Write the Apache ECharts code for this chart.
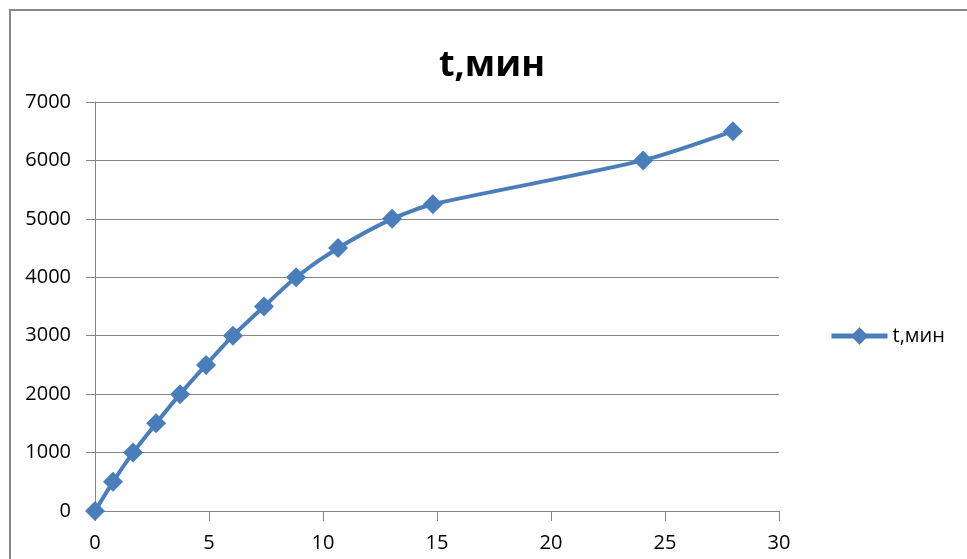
<!DOCTYPE html>
<html>
<head>
<meta charset="utf-8">
<script src="https://cdn.jsdelivr.net/npm/echarts@6/dist/echarts.min.js"></script>
<style>
  html, body { margin: 0; padding: 0; background: #fff; }
  #chart { width: 967px; height: 559px; }
</style>
</head>
<body>
<div id="chart"></div>
<script>
// Measured series: distance (x) vs. time in minutes (y)
const seriesName = 't,мин';
const xValues = [0, 0.79, 1.67, 2.68, 3.73, 4.87, 6.05, 7.41, 8.82, 10.66, 13.03, 14.82, 24.04, 27.98];
const yValues = [0, 500, 1000, 1500, 2000, 2500, 3000, 3500, 4000, 4500, 5000, 5250, 6000, 6500];

const xTicks = { min: 0, max: 30, interval: 5 };
const yTicks = { min: 0, max: 7000, interval: 1000 };

const points = xValues.map((x, i) => [x, yValues[i]]);

const fontFamily = '"Open Sans", "Liberation Sans", sans-serif';
const lineColor = '#4A7EBB';
const axisGray = '#868686';

const chart = echarts.init(document.getElementById('chart'));
chart.setOption({
  backgroundColor: '#fff',
  animation: false,
  title: {
    text: seriesName,
    left: 487,
    textAlign: 'center',
    top: 43,
    textStyle: { fontFamily, fontSize: 36, fontWeight: 'bold', color: '#000' }
  },
  legend: {
    data: [seriesName],
    left: 824,
    top: 321,
    itemWidth: 56,
    itemHeight: 22,
    lineStyle: { width: 5, color: lineColor },
    itemStyle: { color: lineColor },
    textStyle: { fontFamily, fontSize: 20, color: '#000' }
  },
  grid: { left: 95, right: 188, top: 102, bottom: 48, containLabel: false },
  xAxis: {
    type: 'value',
    min: xTicks.min, max: xTicks.max, interval: xTicks.interval,
    axisLine: { show: true, lineStyle: { color: axisGray, width: 1 } },
    axisTick: { show: true, length: 10, lineStyle: { color: axisGray } },
    axisLabel: { margin: 22, fontFamily, fontSize: 20, color: '#000' },
    splitLine: { show: false }
  },
  yAxis: {
    type: 'value',
    min: yTicks.min, max: yTicks.max, interval: yTicks.interval,
    axisLine: { show: true, lineStyle: { color: axisGray, width: 1 } },
    axisTick: { show: true, length: 9, lineStyle: { color: axisGray } },
    axisLabel: { margin: 24, fontFamily, fontSize: 20, color: '#000', formatter: v => String(v) },
    splitLine: { show: true, lineStyle: { color: axisGray, width: 1 } }
  },
  graphic: [{
    type: 'rect',
    shape: { x: 10, y: 10, width: 1000, height: 600 },
    style: { fill: null, stroke: '#888', lineWidth: 2 },
    silent: true,
    z: 100
  }],
  series: [{
    name: seriesName,
    type: 'line',
    data: points,
    smooth: 0.25,
    symbol: 'diamond',
    symbolSize: 20,
    lineStyle: { color: lineColor, width: 4 },
    itemStyle: { color: lineColor },
    clip: false
  }]
});
</script>
</body>
</html>
